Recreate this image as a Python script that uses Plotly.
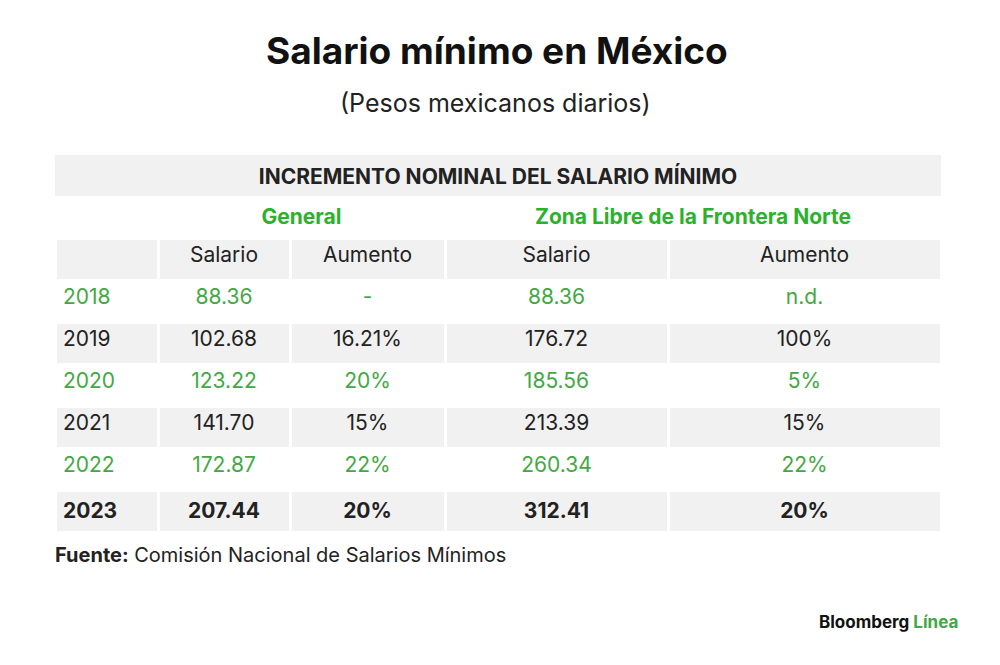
import plotly.graph_objects as go

# ---- data ----
title = "Salario mínimo en México"
subtitle = "(Pesos mexicanos diarios)"
table_title = "INCREMENTO NOMINAL DEL SALARIO MÍNIMO"
groups = ["", "General", "Zona Libre de la Frontera Norte"]
col_headers = ["", "Salario", "Aumento", "Salario", "Aumento"]
years = ["2018", "2019", "2020", "2021", "2022", "2023"]
general_salario = [88.36, 102.68, 123.22, 141.70, 172.87, 207.44]
general_aumento = ["-", "16.21%", "20%", "15%", "22%", "20%"]
zona_salario = [88.36, 176.72, 185.56, 213.39, 260.34, 312.41]
zona_aumento = ["n.d.", "100%", "5%", "15%", "22%", "20%"]
source_label = "Fuente:"
source_text = "Comisión Nacional de Salarios Mínimos"

# ---- styles ----
FONT = "Inter"
GREEN = "#2bb12b"
ROW_GREEN = "#43a843"
DARK = "#222222"
GRAY = "#f1f1f1"
W, H = 1000, 665
OFF = 8  # page margin offset compensation
X0, X1 = 55 - OFF, 941 - OFF
ROW_H = 42
col_widths = [103, 132, 155, 223, 273]

def py(px):
    return 1 - (px - OFF) / H

def px_(x):
    return (x - OFF) / W

n = len(years)
row_fill = ["white" if i % 2 == 0 else GRAY for i in range(n)]
row_color = [ROW_GREEN if i % 2 == 0 else DARK for i in range(n)]
row_color[-1] = DARK

def bold_last(vals):
    out = list(vals)
    out[-1] = f"<b>{out[-1]}</b>"
    return out

columns = [
    bold_last(years),
    bold_last([f"{v:.2f}" for v in general_salario]),
    bold_last(general_aumento),
    bold_last([f"{v:.2f}" for v in zona_salario]),
    bold_last(zona_aumento),
]

fig = go.Figure()

# Title row of table
fig.add_trace(go.Table(
    domain=dict(x=[X0 / W, X1 / W], y=[py(155 + ROW_H), py(155)]),
    columnwidth=[1],
    header=dict(values=[f"<b>{table_title}</b>"], fill_color=GRAY,
                line=dict(color=GRAY, width=0), height=ROW_H, align="center",
                font=dict(family=FONT, size=21, color=DARK)),
    cells=dict(values=[[]]),
))

# Group row
fig.add_trace(go.Table(
    domain=dict(x=[X0 / W, X1 / W], y=[py(196 + ROW_H), py(196)]),
    columnwidth=[col_widths[0], col_widths[1] + col_widths[2], col_widths[3] + col_widths[4]],
    header=dict(values=[f"<b>{g}</b>" if g else "" for g in groups], fill_color="white",
                line=dict(color="white", width=0), height=ROW_H, align="center",
                font=dict(family=FONT, size=21, color=GREEN)),
    cells=dict(values=[[], [], []]),
))

# Main table
fig.add_trace(go.Table(
    domain=dict(x=[X0 / W, X1 / W], y=[py(238 + ROW_H * (n + 1)), py(238)]),
    columnwidth=col_widths,
    header=dict(values=col_headers, fill_color=GRAY,
                line=dict(color="white", width=3), height=ROW_H,
                align=["left", "center", "center", "center", "center"],
                font=dict(family=FONT, size=21, color=DARK)),
    cells=dict(values=columns,
               fill_color=[row_fill] * 5,
               line=dict(color="white", width=3), height=ROW_H,
               align=["left", "center", "center", "center", "center"],
               font=dict(family=FONT, size=21, color=[row_color] * 5)),
))

fig.update_layout(
    width=W, height=H,
    margin=dict(l=0, r=0, t=0, b=0),
    paper_bgcolor="white", plot_bgcolor="white",
    font=dict(family=FONT, color=DARK),
    annotations=[
        dict(text=f"<b>{title}</b>", x=px_(497), y=py(51), xref="paper", yref="paper",
             showarrow=False, font=dict(family=FONT, size=37, color="#111111"),
             xanchor="center", yanchor="middle"),
        dict(text=subtitle, x=px_(495), y=py(103), xref="paper", yref="paper",
             showarrow=False, font=dict(family=FONT, size=25, color=DARK),
             xanchor="center", yanchor="middle"),
        dict(text=f"<b>{source_label}</b> {source_text}", x=px_(53), y=py(555),
             xref="paper", yref="paper", showarrow=False,
             font=dict(family=FONT, size=20, color=DARK),
             xanchor="left", yanchor="middle"),
        dict(text=f"<b>Bloomberg <span style='color:{ROW_GREEN}'>Línea</span></b>",
             x=px_(960), y=py(622), xref="paper", yref="paper", showarrow=False,
             font=dict(family=FONT, size=17, color="#111111"),
             xanchor="right", yanchor="middle"),
    ],
)

fig.write_html("out.html")
